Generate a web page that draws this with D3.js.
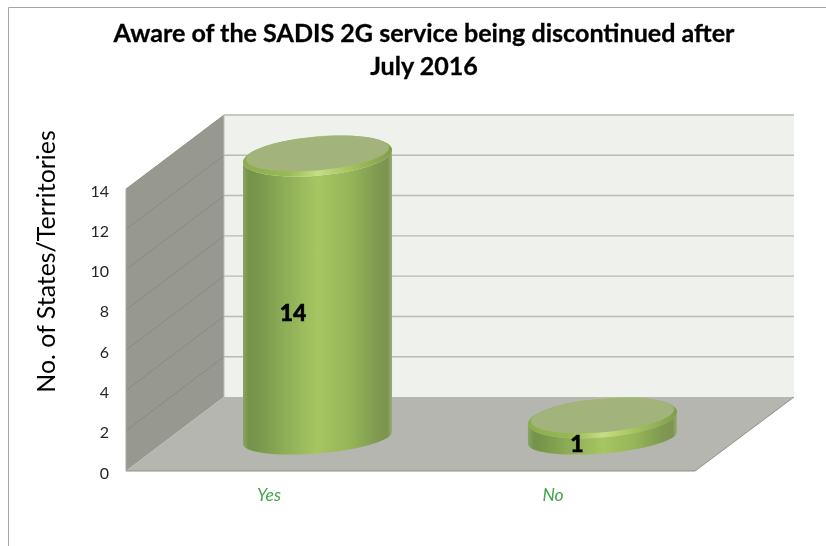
<!DOCTYPE html>
<html><head><meta charset="utf-8">
<script src="https://cdn.jsdelivr.net/npm/d3@7"></script>
<style>html,body{margin:0;padding:0;background:#fff}svg{display:block;filter:blur(0.35px)}text{font-family:Lato,"Open Sans",sans-serif}</style>
</head><body><svg id="c" width="826" height="546"></svg>
<script>
const titleLines = ["Aware of the SADIS 2G service being discontinued after", "July 2016"];
const yAxisTitle = "No. of States/Territories";
const categories = ["Yes", "No"];
const values = [14, 1];
const yTicks = [0, 2, 4, 6, 8, 10, 12, 14];

const svg = d3.select("#c");
const frontY = d3.scaleLinear().domain([0, 14]).range([471, 189]);
const backY = d3.scaleLinear().domain([0, 14]).range([397, 115]);
const frontX = 126, backX = 224, plotW = 570;
const x = d3.scaleBand().domain(categories).range([frontX + 49, frontX + 49 + plotW]).paddingInner(0.477).paddingOuter(0.2386);
const midY = v => frontY(v) - 33;

const defs = svg.append("defs");
function lg(id, stops) {
  const g = defs.append("linearGradient").attr("id", id).attr("x1", 0).attr("x2", 1).attr("y1", 0).attr("y2", 0);
  stops.forEach(s => g.append("stop").attr("offset", s[0]).attr("stop-color", s[1]));
}
lg("body", [[0, "#8aa562"], [0.04, "#749249"], [0.12, "#7a994b"], [0.3, "#90b058"], [0.5, "#a6c662"], [0.72, "#95b558"], [0.9, "#7f9a50"], [0.97, "#7c9450"], [1, "#9aae78"]]);
lg("rim", [[0, "#8aac4c"], [0.3, "#98ba55"], [0.5, "#c6de84"], [0.7, "#a6c660"], [1, "#7f9e48"]]);

svg.append("path").attr("d", "M8.5,546V7.5H826").attr("fill", "none").attr("stroke", "#a6a6a6").attr("stroke-width", 1);

const poly = pts => "M" + pts.map(p => p.join(",")).join("L") + "Z";
svg.append("path").attr("d", poly([[backX, backY(14)], [backX + plotW, backY(14)], [backX + plotW, backY(0)], [backX, backY(0)]])).attr("fill", "#eff2ec");
svg.append("path").attr("d", poly([[frontX, frontY(14)], [backX, backY(14)], [backX, backY(0)], [frontX, frontY(0)]])).attr("fill", "#979991");
svg.append("path").attr("d", poly([[frontX, frontY(0)], [backX, backY(0)], [backX + plotW, backY(0)], [frontX + plotW - 1, frontY(0)]])).attr("fill", "#b4b6af");

yTicks.filter(t => t > 0).forEach(t => {
  svg.append("line").attr("x1", backX).attr("x2", backX + plotW).attr("y1", backY(t)).attr("y2", backY(t)).attr("stroke", "#b9bab5").attr("stroke-width", 1.4);
  svg.append("line").attr("x1", frontX).attr("x2", backX).attr("y1", frontY(t)).attr("y2", backY(t)).attr("stroke", "#85877f").attr("stroke-width", 0.8);
});
svg.append("line").attr("x1", backX).attr("x2", backX).attr("y1", backY(14)).attr("y2", backY(0)).attr("stroke", "#bcbdb8").attr("stroke-width", 1);
svg.append("line").attr("x1", frontX).attr("x2", frontX + plotW - 1).attr("y1", frontY(0)).attr("y2", frontY(0)).attr("stroke", "#8f918a").attr("stroke-width", 1.2);
svg.append("line").attr("x1", frontX + plotW - 1).attr("x2", backX + plotW).attr("y1", frontY(0)).attr("y2", backY(0)).attr("stroke", "#8f918a").attr("stroke-width", 1);
svg.append("line").attr("x1", frontX).attr("x2", frontX).attr("y1", frontY(14)).attr("y2", frontY(0)).attr("stroke", "#a9aaa5").attr("stroke-width", 1);

const rad = d => d * Math.PI / 180;
const tA = d3.range(0, 361, 5).map(rad);
const shear = 6, ryTop = 19.7, ryBot = 15.5;
const ell = (cx, cy, rx, ry) => d3.line()(tA.map(t => [cx + rx * Math.cos(t), cy + ry * Math.sin(t) - shear * Math.cos(t)]));
function side(cx, yTop, yBot, rx) {
  const front = d3.range(0, 181, 5).map(rad);
  const lower = front.map(t => [cx + rx * Math.cos(t), yBot + ryBot * Math.sin(t) - shear * Math.cos(t)]);
  const upper = front.slice().reverse().map(t => [cx + rx * Math.cos(t), yTop + ryTop * Math.sin(t) - shear * Math.cos(t)]);
  return d3.line()(lower.concat(upper)) + "Z";
}
const labelPos = { Yes: [293, 321], No: [577, 452] };
const catPos = { Yes: 269, No: 553 };
categories.forEach((c, i) => {
  const rx = x.bandwidth() / 2, cx = x(c) + rx;
  const yB = midY(0), yT = midY(values[i]);
  svg.append("path").attr("d", side(cx, yT, yB, rx)).attr("fill", "url(#body)");
  svg.append("path").attr("d", ell(cx, yT, rx, ryTop)).attr("fill", "url(#rim)");
  svg.append("path").attr("d", ell(cx, yT - 2.5, rx - 3, ryTop - 2.8)).attr("fill", "#a3b37c");
  svg.append("text").attr("x", labelPos[c][0]).attr("y", labelPos[c][1])
    .attr("text-anchor", "middle").attr("font-size", 23).attr("font-weight", 900).attr("fill", "#000").attr("stroke", "#000").attr("stroke-width", 0.5).text(values[i]);
  svg.append("text").attr("x", catPos[c]).attr("y", 501).attr("text-anchor", "middle")
    .attr("font-size", 17.5).attr("font-style", "italic").attr("fill", "#3fa64a").text(c);
});

const axis = d3.axisLeft(frontY).tickValues(yTicks).tickSize(0).tickPadding(17);
const ag = svg.append("g").attr("transform", `translate(${frontX},2)`).call(axis);
ag.select(".domain").remove();
ag.selectAll("text").attr("font-size", 16).attr("fill", "#262626").style("font-family", 'Lato,"Open Sans",sans-serif');

svg.selectAll("text.t").data(titleLines).join("text").attr("class", "t")
  .attr("x", 424).attr("y", (d, i) => 42 + i * 33).attr("text-anchor", "middle")
  .attr("font-size", 25.1).attr("font-weight", 700).attr("fill", "#000").attr("stroke", "#000").attr("stroke-width", 0.3).text(d => d);
svg.append("text").attr("transform", "translate(55,261.5) rotate(-90)").attr("text-anchor", "middle")
  .attr("font-size", 24.9).attr("fill", "#000").text(yAxisTitle);
</script></body></html>
